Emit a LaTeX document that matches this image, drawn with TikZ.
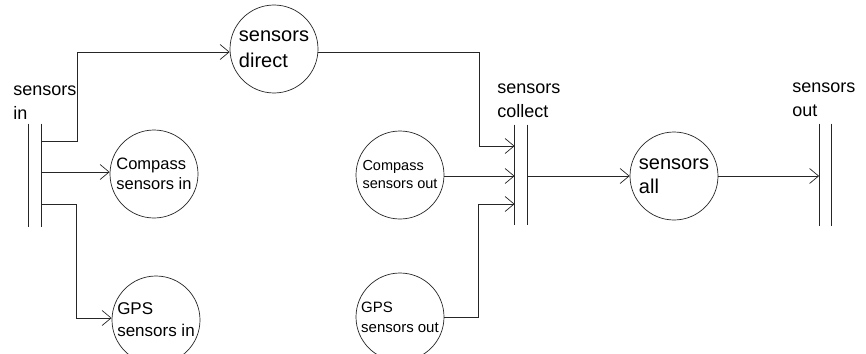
\documentclass[tikz,border=0pt]{standalone}
\usepackage{fontspec}
\setmainfont{Liberation Sans}
\usetikzlibrary{arrows.meta}
\begin{document}
\begin{tikzpicture}[x=1pt,y=-1pt,
  line width=0.8pt,
  flow/.style={draw=black!85,-{Straight Barb[length=9pt,width=15pt,line width=0.7pt]}},
  link/.style={draw=black!85},
  proc/.style={circle,draw=black!85,line width=0.7pt,minimum size=88pt,inner sep=0pt,align=left},
  storebox/.style={draw=none,minimum width=12pt,inner sep=0pt},
  storeline/.style={draw=black!85,line width=1pt},
  lbl/.style={anchor=north west,inner sep=0pt,align=left,font=\fontsize{18}{24}\selectfont}
]
\clip (0,0) rectangle (866,353);
\fill[white] (0,0) rectangle (866,353);

% data stores
\node[storebox,minimum height=103pt] (sin) at (35,175.5) {};
\node[storebox,minimum height=100pt] (scol) at (521,175) {};
\node[storebox,minimum height=102pt] (sout) at (825.5,175) {};
\foreach \s in {sin,scol,sout}{
  \draw[storeline] (\s.north west) -- (\s.south west);
  \draw[storeline] (\s.north east) -- (\s.south east);
}
\node[lbl] (lin) at (13,85) {sensors\\in};
\node[lbl] (lcol) at (497,83) {sensors\\collect};
\node[lbl] (lout) at (792,82) {sensors\\out};

% processes
\node[proc,font=\fontsize{20}{26}\selectfont] (direct) at (274,49) {sensors\\direct};
\node[proc,font=\fontsize{16.5}{20}\selectfont] (compin) at (154,174) {Compass\\sensors in};
\node[proc,font=\fontsize{17}{22}\selectfont] (gpsin) at (156,320) {GPS\\sensors in};
\node[proc,font=\fontsize{14.5}{18}\selectfont] (compout) at (400,175) {Compass\\sensors out};
\node[proc,font=\fontsize{15}{20}\selectfont] (gpsout) at (400,317) {GPS\\sensors out};
\node[proc,font=\fontsize{20}{24}\selectfont] (all) at (674,176) {sensors\\all};

% connectors
\draw[flow] (sin.east |- 0,141) -| (77,52) -- (direct.west |- 0,52);
\draw[flow] (sin.east |- 0,172) -- (compin.west |- 0,172);
\draw[flow] (sin.east |- 0,204) -| (76,318) -- (gpsin.west |- 0,318);
\draw[flow] (direct.east |- 0,52) -| (479,146) -- (scol.west |- 0,146);
\draw[flow] (compout.east |- 0,176) -- (scol.west |- 0,176);
\draw[flow] (gpsout.east |- 0,317) -| (478,204) -- (scol.west |- 0,204);
\draw[flow] (scol.east |- 0,176) -- (all.west);
\draw[flow] (all.east) -- (sout.west |- all.east);
\end{tikzpicture}
\end{document}
